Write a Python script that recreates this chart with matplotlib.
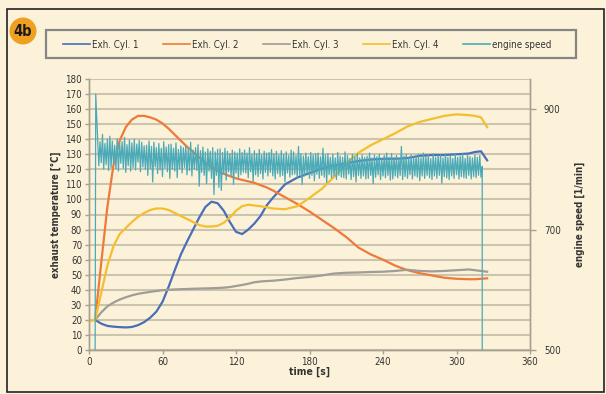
import numpy as np
import matplotlib
matplotlib.use("Agg")
import matplotlib.pyplot as plt
from matplotlib.patches import Ellipse, Rectangle
from matplotlib.lines import Line2D
from matplotlib import font_manager

# ---------------- data ----------------
time_s = [5, 10, 15, 20, 25, 30, 35, 40, 45, 50, 55, 60, 65, 70, 75, 80, 85, 90, 95, 100,
          105, 110, 115, 120, 125, 130, 135, 140, 145, 150, 160, 170, 180, 190, 200, 210,
          220, 230, 240, 250, 260, 270, 280, 290, 300, 310, 315, 320, 325]

cyl1 = [20, 17.5, 16, 15.5, 15.2, 15, 15.3, 16.5, 18.5, 21.5, 25.5, 32, 42, 53, 63.5, 72, 80, 88, 95, 98.5,
        97.5, 92.5, 85, 78.5, 77, 80, 84, 89, 96, 101, 110, 114.5, 117.5, 120.5, 122.5, 124,
        125.5, 126.5, 127, 127, 127.5, 129, 129.5, 129.5, 130, 130.5, 131.5, 132, 126]

cyl2 = [20, 58, 95, 123, 139, 148, 153, 155.5, 155.5, 154.5, 153, 150.5, 147, 143, 139, 135, 131.5, 128, 124.5, 121.5,
        119, 117, 115.5, 114, 113, 112, 111, 109.5, 108, 106, 101.5, 97, 92, 86.5, 81, 75,
        68, 63.5, 60, 56, 53, 51, 49.5, 48, 47.3, 47, 47, 47.3, 47.6]

cyl3 = [20, 25, 29, 31.5, 33.5, 35, 36.3, 37.3, 38, 38.6, 39.2, 39.7, 40, 40.2, 40.4, 40.5, 40.7, 40.8, 40.9, 41,
        41.2, 41.4, 41.8, 42.5, 43.2, 44, 45, 45.5, 45.8, 46, 46.8, 47.8, 48.5, 49.5, 50.8, 51.3,
        51.5, 51.8, 52, 52.5, 53.3, 52.5, 52.2, 52.5, 53, 53.5, 53, 52.5, 52]

cyl4_time_s = [0] + time_s
cyl4 = [19, 20, 38, 56, 69, 77, 81, 85, 88.5, 91, 93, 94, 94, 93, 91, 89, 87, 85, 83, 82, 82,
        82.5, 84.5, 88, 92.5, 95.5, 96.5, 96, 95.5, 94.8, 94, 93.5, 95.5, 101, 107, 115, 124,
        131, 136, 140, 144, 148.5, 151.5, 153.5, 155.5, 156.5, 156, 155.5, 154.5, 148]

# engine speed: 1 s samples from 7 s to 321 s, framed by the start and stop steps
speed_time_s = np.concatenate([[5, 5.5], np.arange(7, 322, 1), [321]])
engine_speed = [500, 925,
    852, 806, 846, 811, 858, 800, 843, 808, 850, 798, 855, 803, 847, 809, 840, 801, 851, 797, 844, 810,
    846, 802, 853, 795, 841, 806, 849, 797, 844, 803, 850, 799, 842, 812, 848, 796, 845, 804, 839, 800,
    840, 790, 847, 801, 838, 779, 845, 804, 836, 793, 843, 799, 835, 788, 846, 802, 837, 796, 841, 785,
    842, 800, 835, 797, 844, 786, 833, 801, 839, 794, 836, 803, 840, 791, 834, 798, 845, 789, 832, 800,
    836, 798, 841, 772, 831, 795, 837, 790, 829, 776, 834, 797, 830, 785, 836, 758, 829, 790, 833, 770,
    834, 765, 828, 792, 835, 782, 830, 796, 826, 789, 832, 775, 829, 794, 827, 786, 834, 791, 828, 795,
    832, 794, 827, 786, 836, 796, 825, 780, 831, 791, 826, 788, 833, 793, 824, 784, 830, 795, 827, 789,
    828, 795, 833, 789, 826, 784, 830, 793, 824, 788, 831, 790, 825, 779, 829, 794, 823, 787, 832, 791,
    829, 792, 823, 786, 838, 790, 826, 775, 822, 789, 827, 793, 821, 785, 828, 790, 824, 781, 826, 792,
    827, 785, 821, 790, 835, 787, 824, 778, 826, 791, 820, 786, 825, 789, 819, 783, 828, 790, 822, 787,
    820, 786, 829, 784, 823, 792, 818, 783, 825, 788, 821, 779, 826, 790, 819, 785, 824, 789, 820, 784,
    822, 785, 827, 790, 819, 776, 824, 787, 821, 791, 825, 783, 818, 789, 823, 786, 827, 790, 820, 782,
    826, 784, 820, 789, 823, 786, 818, 790, 838, 783, 822, 788, 825, 785, 819, 791, 824, 784, 821, 789,
    822, 787, 825, 781, 819, 789, 827, 785, 821, 790, 824, 786, 818, 783, 826, 789, 820, 785, 823, 790,
    824, 777, 819, 788, 826, 786, 820, 783, 823, 789, 818, 785, 825, 791, 820, 784, 822, 788, 826, 786,
    818, 785, 825, 790, 821, 784, 819, 788, 824, 786, 820, 790, 823, 787, 805,
    500]

series_labels = ["Exh. Cyl. 1", "Exh. Cyl. 2", "Exh. Cyl. 3", "Exh. Cyl. 4", "engine speed"]
x_ticks = [0, 60, 120, 180, 240, 300, 360]
y_ticks = list(range(0, 181, 10))
y2_ticks = [500, 700, 900]

# ---------------- style ----------------
names = {f.name for f in font_manager.fontManager.ttflist}
fam = "Liberation Sans Narrow" if "Liberation Sans Narrow" in names else "DejaVu Sans"
plt.rcParams["font.family"] = [fam, "DejaVu Sans"]
plt.rcParams["font.stretch"] = "condensed"

W, H = 606, 394
BG = "#fcf2da"
GRID = "#cdc4b0"
SPINE = "#a8a090"
TXT = "#333333"
colors = ["#4a6fb8", "#ee7a3a", "#a09c96", "#f5be2e", "#4aaab8"]

def fx(px):
    return px / W

def fy(py):
    return 1 - py / H

fig = plt.figure(figsize=(W / 100, H / 100), dpi=100, facecolor=BG)
ax = fig.add_axes([fx(89), fy(350), (530 - 89) / W, (350 - 79) / H])
ax.set_facecolor(BG)
ax2 = ax.twinx()

ax.set_xlim(0, 360)
ax.set_ylim(0, 180)
ax2.set_ylim(500, 950)

for yv in y_ticks:
    ax.axhline(yv, color=GRID, lw=1.5, zorder=0)

l1, = ax.plot(time_s, cyl1, color=colors[0], lw=1.6, zorder=3)
l2, = ax.plot(time_s, cyl2, color=colors[1], lw=1.6, zorder=3)
l3, = ax.plot(time_s, cyl3, color=colors[2], lw=1.6, zorder=3)
l4, = ax.plot(cyl4_time_s, cyl4, color=colors[3], lw=1.6, zorder=3)
l5, = ax2.plot(speed_time_s, engine_speed, color=colors[4], lw=0.9, zorder=2)

ax.set_xticks(x_ticks)
ax.set_yticks(y_ticks)
ax2.set_yticks(y2_ticks)
for a in (ax, ax2):
    a.spines["top"].set_visible(False)
    for s in ("left", "right", "bottom"):
        a.spines[s].set_color(SPINE)
        a.spines[s].set_linewidth(1.0)
ax.tick_params(axis="both", colors=SPINE, labelcolor=TXT, labelsize=7, length=3, width=1, pad=2)
ax2.tick_params(axis="y", colors=SPINE, labelcolor=TXT, labelsize=7, length=4, width=1, pad=6)

ax.set_xlabel("time [s]", fontsize=7.5, fontweight="bold", color=TXT, labelpad=0)
ax.set_ylabel("exhaust temperature [°C]", fontsize=7, fontweight="bold", color=TXT, labelpad=3)
ax2.set_ylabel("engine speed [1/min]", fontsize=7, fontweight="bold", color=TXT,
               rotation=90, labelpad=10)

# legend: evenly spaced entries in a framed box, as in the source chart
fig.patches.append(Rectangle((fx(46), fy(58)), (576 - 46) / W, (58 - 30) / H,
                             transform=fig.transFigure, facecolor=BG,
                             edgecolor="#858585", lw=1.6))
for i, (lab, line) in enumerate(zip(series_labels, [l1, l2, l3, l4, l5])):
    x0 = 63 + 100 * i
    fig.lines.append(Line2D([fx(x0), fx(x0 + 27)], [fy(44), fy(44)],
                            transform=fig.transFigure, color=line.get_color(), lw=1.2))
    fig.text(fx(x0 + 29), fy(44.5), lab, ha="left", va="center", fontsize=7,
             color=TXT, fontweight="medium")

# outer frame and badge
fig.patches.append(Rectangle((fx(7), fy(392)), (604 - 7) / W, (392 - 9) / H,
                             transform=fig.transFigure, fill=False, edgecolor="#222222", lw=1.2))
fig.patches.append(Ellipse((fx(23), fy(31)), 27 / W, 27 / H, transform=fig.transFigure,
                           facecolor="#f0a020", edgecolor="none"))
fig.text(fx(23), fy(31.5), "4b", ha="center", va="center", fontsize=10.5,
         fontweight="bold", color="#1a1a1a")

fig.savefig("out.png", dpi=100, facecolor=BG)
